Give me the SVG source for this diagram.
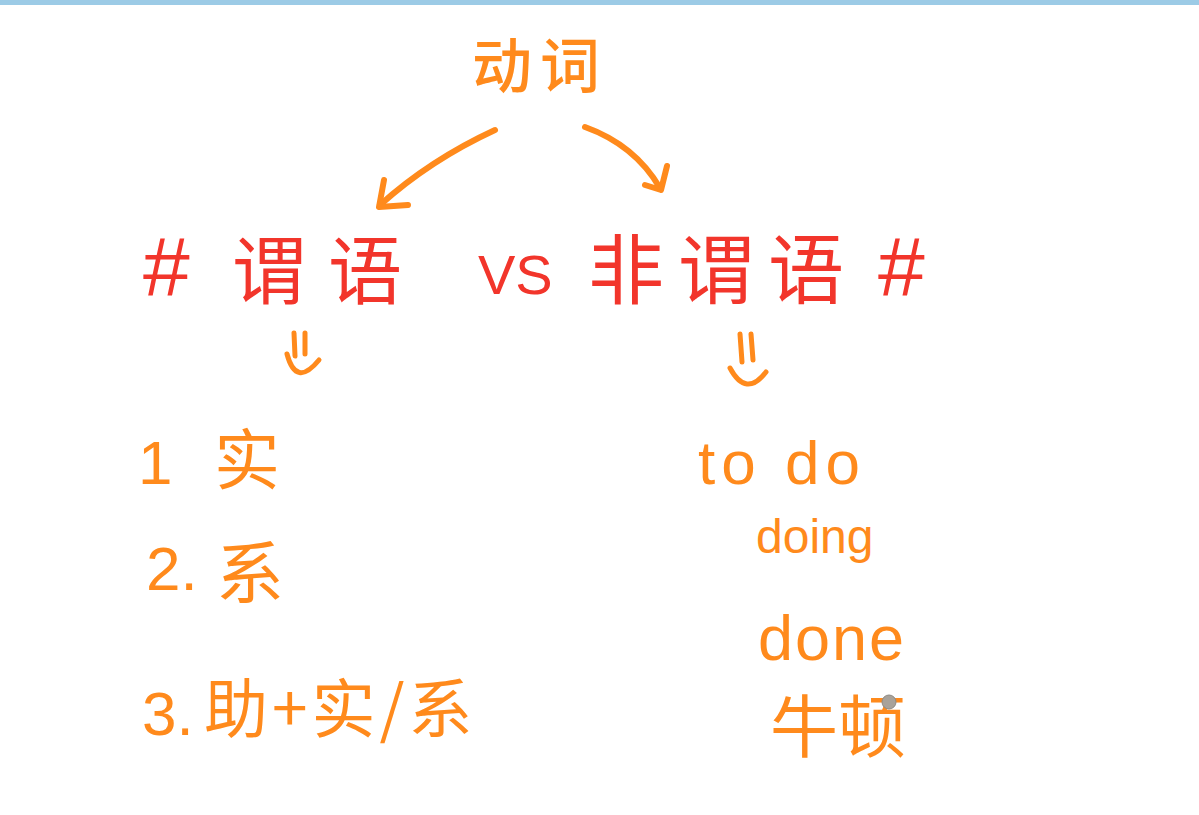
<svg xmlns="http://www.w3.org/2000/svg" width="1199" height="815" viewBox="0 0 1199 815">
<style>
.o{fill:#FF8A1C;font-family:"Noto Sans CJK SC","Liberation Sans",sans-serif}
.r{fill:#F2352B;font-family:"Noto Sans CJK SC","Liberation Sans",sans-serif}
.l{font-family:"Liberation Sans","Noto Sans CJK SC",sans-serif}
.c{fill:none;stroke:#FF8A1C;stroke-width:6;stroke-linecap:round;stroke-linejoin:round}
.d{fill:none;stroke:#FF8A1C;stroke-width:5;stroke-linecap:round;stroke-linejoin:round}
</style>
<rect x="0" y="0" width="1199" height="815" fill="#ffffff"/>
<rect x="0" y="0" width="1199" height="5" fill="#9CCBE6"/>
<g id="top"><text class="o" x="540" y="88" font-size="60" font-weight="500" text-anchor="middle" letter-spacing="8">动词</text></g>
<g id="connectors">
<path class="c" d="M495,130 Q430,160 380,205"/>
<path class="c" d="M384,180 L379,207 L408,205"/>
<path class="c" d="M585,127 Q635,145 660,188"/>
<path class="c" d="M667,166 L661,190 L645,185"/>
<path class="d" d="M294,333 L295,356 M305,333 L305,354 M287,354 Q296,388 319,360"/>
<path class="d" d="M740,334 L742,362 M751,334 L753,360 M730,368 Q746,398 766,372"/>
</g>
<g id="left">
<text class="r l" x="143" y="296" font-size="84">#</text>
<text class="r" x="232" y="298" font-size="74" letter-spacing="22">谓语</text>
</g>
<text id="vs" class="r l" x="478" y="294" font-size="56">VS</text>
<g id="right">
<text class="r" x="588" y="298" font-size="76" letter-spacing="14">非谓语</text>
<text class="r l" x="878" y="296" font-size="84">#</text>
</g>
<g id="list-left">
<text class="o l" x="138" y="484" font-size="62">1</text>
<text class="o" x="214" y="484" font-size="66">实</text>
<text class="o l" x="146" y="590" font-size="62">2.</text>
<text class="o" x="216" y="598" font-size="68">系</text>
<text class="o l" x="142" y="735" font-size="62">3.</text>
<text class="o" x="204" y="732" font-size="64" letter-spacing="4">助+实/系</text>
</g>
<g id="list-right">
<text class="o l" x="698" y="484" font-size="62" letter-spacing="6">to do</text>
<text class="o l" x="756" y="553" font-size="48">doing</text>
<text class="o l" x="758" y="660" font-size="63" letter-spacing="2">done</text>
<text class="o" x="770" y="752" font-size="68">牛顿</text>
</g>
<circle cx="889" cy="702" r="7" fill="#A8A29A" stroke="#8E8A84" stroke-width="1"/>
</svg>
